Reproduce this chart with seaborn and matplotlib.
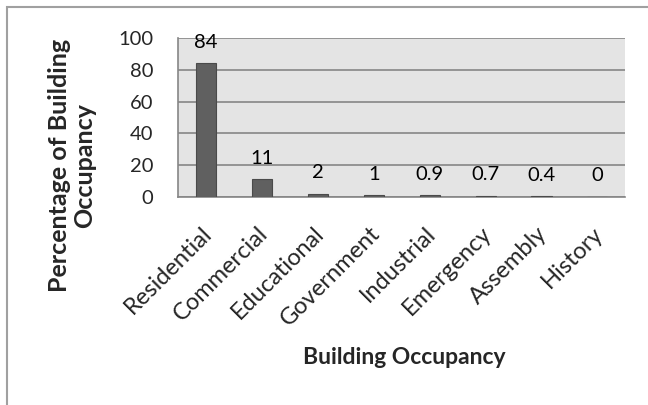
import matplotlib
matplotlib.use("Agg")
import matplotlib.pyplot as plt
import matplotlib.transforms as mtransforms
import seaborn as sns
import pandas as pd
from matplotlib.patches import Rectangle

categories = ["Residential", "Commercial", "Educational", "Government",
              "Industrial", "Emergency", "Assembly", "History"]
values = [84, 11, 2, 1, 0.9, 0.7, 0.4, 0]
value_labels = ["84", "11", "2", "1", "0.9", "0.7", "0.4", "0"]
yticks = [0, 20, 40, 60, 80, 100]

df = pd.DataFrame({"occupancy": categories, "percent": values})

sns.set_style("white")
plt.rcParams["font.family"] = ["Lato", "DejaVu Sans"]

fig = plt.figure(figsize=(6.48, 4.05), dpi=100)
ax = fig.add_axes([0.275, 0.514, 0.690, 0.392])
ax.set_facecolor("#e4e4e4")

sns.barplot(data=df, x="occupancy", y="percent", color="#606060",
            width=0.36, edgecolor="#4a4a4a", linewidth=0.8, ax=ax, zorder=3)

ax.set_ylim(0, 100)
ax.set_yticks(yticks)
ax.yaxis.grid(True, color="#868686", linewidth=1.2, zorder=1)
ax.set_axisbelow(True)
ax.tick_params(axis="y", labelsize=14.5, length=0, pad=18)
ax.tick_params(axis="x", labelsize=17, length=0, pad=0)

# rotated category labels, top-right corner hung below each tick
shift = mtransforms.ScaledTranslation(-5 / 100, -26 / 100, fig.dpi_scale_trans)
for lab in ax.get_xticklabels():
    lab.set_rotation(45)
    lab.set_ha("right")
    lab.set_va("top")
    lab.set_rotation_mode("anchor")
    lab.set_transform(lab.get_transform() + shift)

for side in ["top", "right"]:
    ax.spines[side].set_visible(False)
for side in ["left", "bottom"]:
    ax.spines[side].set_color("#868686")
    ax.spines[side].set_linewidth(1.2)

for i, lab in enumerate(value_labels):
    ax.annotate(lab, (i, values[i]), xytext=(0, 9), textcoords="offset points",
                ha="center", va="bottom", fontsize=14.5, color="black",
                zorder=4)

ax.set_xlabel("")
ax.set_ylabel("")
fig.text(72 / 648, 1 - 165 / 405, "Percentage of Building\nOccupancy",
         rotation=90, ha="center", va="center", multialignment="center",
         fontsize=18, fontweight="bold", linespacing=1.1)
fig.text(404 / 648, 1 - 358 / 405, "Building Occupancy", ha="center",
         va="center", fontsize=16.5, fontweight="bold")

# outer chart frame
fig.patches.append(Rectangle((7 / 648, -0.1), 1.1, 1 - 7 / 405 + 0.1,
                             transform=fig.transFigure, fill=False,
                             edgecolor="#a0a0a0", linewidth=1.5))

fig.savefig("out.png", dpi=100)
